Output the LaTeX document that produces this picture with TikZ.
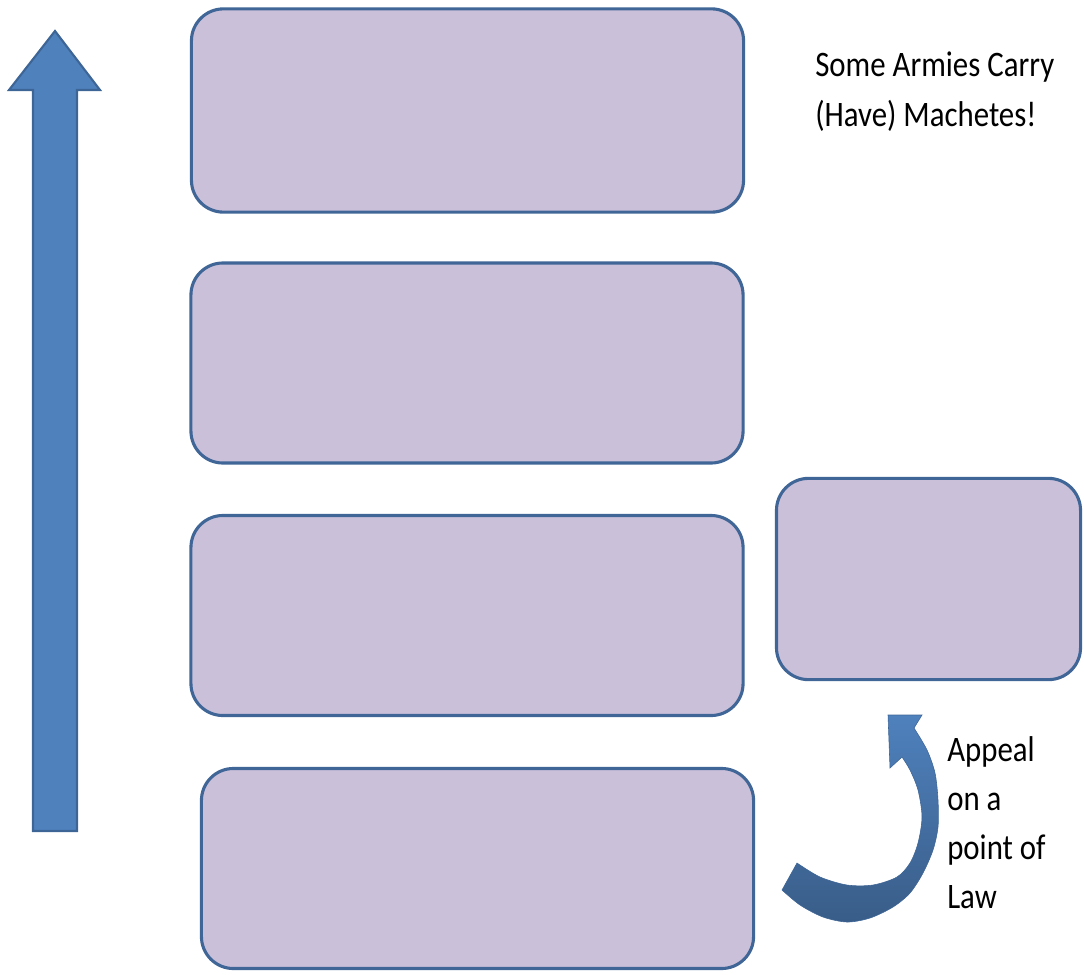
\documentclass[tikz,border=0pt]{standalone}
\usepackage{fontspec}
\setmainfont{Carlito}[FakeStretch=0.86]
\definecolor{boxfill}{HTML}{CBC0DA}
\definecolor{boxline}{HTML}{3F6696}
\definecolor{arrowfill}{HTML}{4F81BD}
\definecolor{arrowline}{HTML}{3D6596}

\begin{document}
\begin{tikzpicture}[x=0.025cm,y=-0.025cm,
    court/.style={draw=boxline, line width=2.2pt, fill=boxfill, rounded corners=0.8cm,
      minimum width=13.8cm, minimum height=5cm},
    lbl/.style={align=left, inner sep=0pt, anchor=north west, font=\fontsize{25.5}{35}\selectfont}]
  \useasboundingbox (0,0) rectangle (1084,974);
  \node[court, minimum height=5.08cm] (lvl1) at (467.5,110.5) {};
  \node[court] (lvl2) at (467,363) {};
  \node[court] (lvl3) at (467,615.5) {};
  \node[court] (lvl4) at (477.5,868.5) {};
  \node[court, minimum width=7.6cm, minimum height=5.03cm] (appealcourt) at (928.5,579) {};
  \node[lbl] (note) at (815,52) {Some Armies Carry\\(Have) Machetes!};
  \node[lbl] (appeal) at (947,736) {Appeal\\on a\\point of\\Law};
  \filldraw[draw=arrowline, fill=arrowfill, line width=1.5pt]
    (33,831) -- (33,90) -- (9,90) -- (55,31) -- (100,90) -- (77,90) -- (77,831) -- cycle;
  \path[top color=arrowfill, bottom color=arrowfill!72!black, draw=arrowline, line width=0.4pt]
    (888,715) -- (922,715) -- (914,728)
    -- plot[smooth] coordinates {(914,728) (927,750) (935,773) (938,800) (938,827) (933,850)
      (923,873) (910,893) (893,907) (870,918) (847,922) (823,917) (800,905) (782,890)}
    -- plot[smooth] coordinates {(797,863) (820,877) (847,885) (873,885) (897,877) (910,863)
      (918,843) (922,817) (918,790) (910,770) (902,757)}
    -- (890,768) -- cycle;
\end{tikzpicture}
\end{document}
